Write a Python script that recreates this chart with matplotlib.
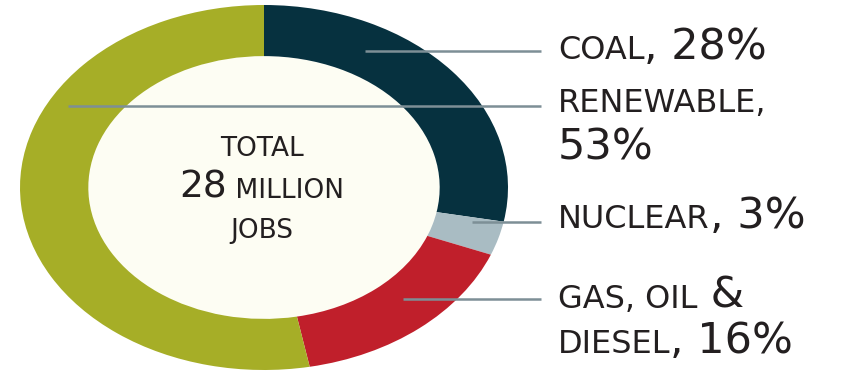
import matplotlib
matplotlib.use("Agg")
import matplotlib.pyplot as plt
from matplotlib.patches import Ellipse

# Share of jobs by energy source (percent), clockwise from 12 o'clock
sources = ["Coal", "Nuclear", "Gas, oil & diesel", "Renewable"]
shares = [28, 3, 16, 53]
colors = ["#06313f", "#a9bcc3", "#c01f2b", "#a6ae27"]
total_jobs = 28  # million

# label text: (small caps part, large part) for each line, per source
label_lines = {
    "Coal": [("COAL", f", {shares[0]}%")],
    "Nuclear": [("NUCLEAR", f", {shares[1]}%")],
    "Gas, oil & diesel": [("GAS, OIL", " &"), ("DIESEL", f", {shares[2]}%")],
    "Renewable": [("RENEWABLE,", ""), ("", f"{shares[3]}%")],
}
# pixel layout for the labels and leader lines
label_base = {"Coal": [59], "Nuclear": [228],
              "Gas, oil & diesel": [308, 353], "Renewable": [112, 160]}
leader_y = {"Coal": 51, "Nuclear": 222, "Gas, oil & diesel": 299, "Renewable": 106}
leader_x0 = {"Coal": 365, "Nuclear": 472, "Gas, oil & diesel": 403, "Renewable": 68}
leader_x1 = 541
text_x = 558

W, H = 844, 375
fig = plt.figure(figsize=(W / 100, H / 100), dpi=100)
fig.patch.set_facecolor("white")

# donut: the ring is stretched into an ellipse
pie_ax = fig.add_axes([20 / W, 5 / H, 488 / W, 365 / H])
pie_ax.pie(shares, colors=colors, startangle=90, counterclock=False,
           radius=1, wedgeprops=dict(width=0.28, linewidth=0))
pie_ax.add_patch(Ellipse((0, 0), 1.44, 1.44, facecolor="#fdfdf3",
                         edgecolor="none", zorder=0.5))
pie_ax.set_aspect("auto")
pie_ax.set_xlim(-1, 1)
pie_ax.set_ylim(-1, 1)
pie_ax.axis("off")

# overlay in pixel coordinates for lines and text
ax = fig.add_axes([0, 0, 1, 1])
ax.set_xlim(0, W)
ax.set_ylim(H, 0)
ax.axis("off")
ax.patch.set_alpha(0)

renderer = fig.canvas.get_renderer()
txt_color = "#231f20"
small_size = 23
big_size = 31

for src in sources:
    y = leader_y[src]
    ax.plot([leader_x0[src], leader_x1], [y, y], color="#7d8f96", lw=1.8,
            solid_capstyle="butt")
    for (small, big), base in zip(label_lines[src], label_base[src]):
        x = text_x
        if small:
            t = ax.text(x, base, small, fontsize=small_size, color=txt_color,
                        va="baseline", ha="left")
            x += t.get_window_extent(renderer).width
        if big:
            ax.text(x, base, big, fontsize=big_size, color=txt_color,
                    va="baseline", ha="left")

# centre caption
cx = 262
ax.text(cx, 156, "TOTAL", fontsize=19, color=txt_color, ha="center", va="baseline")
num = ax.text(0, 198, f"{total_jobs}", fontsize=27, color=txt_color, va="baseline")
rest = ax.text(0, 198, " MILLION", fontsize=19, color=txt_color, va="baseline")
w_num = num.get_window_extent(renderer).width
w_rest = rest.get_window_extent(renderer).width
x0 = cx - (w_num + w_rest) / 2
num.set_x(x0)
rest.set_x(x0 + w_num)
ax.text(cx, 238, "JOBS", fontsize=19, color=txt_color, ha="center", va="baseline")

fig.savefig("out.png", dpi=100)
